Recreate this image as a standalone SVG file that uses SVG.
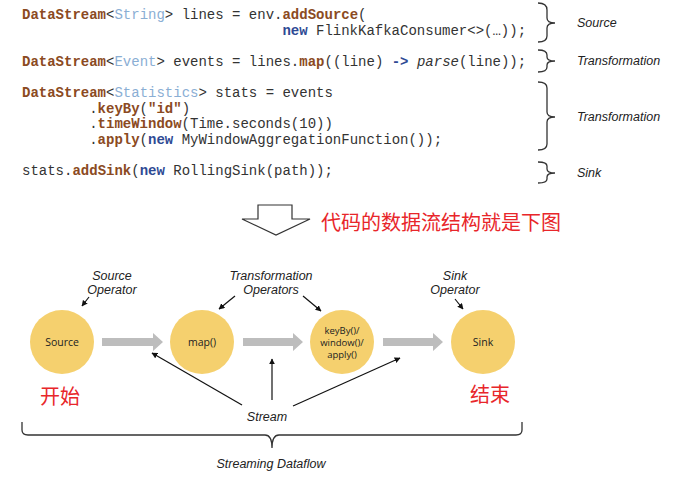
<svg xmlns="http://www.w3.org/2000/svg" width="682" height="488" viewBox="0 0 682 488">
<defs>
<style>
.code{font-family:"Liberation Mono","Courier New",monospace;font-size:14px;fill:#333;white-space:pre}
.kw{fill:#8B4A22;font-weight:bold}
.ty{fill:#8AAED4}
.nw{fill:#2E4A94;font-weight:bold}
.lbl{font-family:"Liberation Sans",Arial,sans-serif;font-style:italic;font-size:12.5px;fill:#222}
.blbl{font-family:"Liberation Sans",Arial,sans-serif;font-style:italic;font-size:12.5px;fill:#222;text-anchor:middle}
.node{fill:#F5D06E}
.ntxt{font-family:"Open Sans","Liberation Sans",sans-serif;font-size:10.5px;fill:#222;text-anchor:middle}
.ntxs{font-family:"Open Sans","Liberation Sans",sans-serif;font-size:9.5px;fill:#222;text-anchor:middle}
.cn{font-family:"Noto Sans CJK SC",sans-serif;fill:#E8262A}
.brace{fill:none;stroke:#333;stroke-width:1.3}
.flow{fill:#BDBDBD}
.ptr{stroke:#111;stroke-width:1.2;fill:none;marker-end:url(#ah)}
</style>
<marker id="ah" viewBox="0 0 10 10" refX="9" refY="5" markerWidth="6" markerHeight="6" orient="auto" markerUnits="userSpaceOnUse">
<path d="M0,0 L10,5 L0,10 z" fill="#111"/>
</marker>
</defs>
<rect width="682" height="488" fill="#fff"/>

<g id="code">
<text class="code" x="22" y="19"><tspan class="kw">DataStream</tspan>&lt;<tspan class="ty">String</tspan>&gt; lines = env.<tspan class="kw">addSource</tspan>(</text>
<text class="code" x="282.4" y="35"><tspan class="nw">new</tspan> FlinkKafkaConsumer&lt;&gt;(…));</text>
<text class="code" x="22" y="66"><tspan class="kw">DataStream</tspan>&lt;<tspan class="ty">Event</tspan>&gt; events = lines.<tspan class="kw">map</tspan>((line) <tspan class="nw">-&gt;</tspan> <tspan font-style="italic">parse</tspan>(line));</text>
<text class="code" x="22" y="97"><tspan class="kw">DataStream</tspan>&lt;<tspan class="ty">Statistics</tspan>&gt; stats = events</text>
<text class="code" x="89.2" y="113">.<tspan class="kw">keyBy</tspan>(<tspan class="kw">"id"</tspan>)</text>
<text class="code" x="89.2" y="128">.<tspan class="kw">timeWindow</tspan>(Time.seconds(10))</text>
<text class="code" x="89.2" y="144">.<tspan class="kw">apply</tspan>(<tspan class="nw">new</tspan> MyWindowAggregationFunction());</text>
<text class="code" x="22" y="175">stats.<tspan class="kw">addSink</tspan>(<tspan class="nw">new</tspan> RollingSink(path));</text>
</g>

<g id="code-braces">
<path class="brace" d="M538,3 Q547,3 547,10 L547,18 Q547,23 555,23 M547,28 Q547,23 555,23 M547,28 L547,36 Q547,42 538,42"/>
<path class="brace" d="M538,50 Q547,50 547,55 L547,57 Q547,61 555,61 M547,65 Q547,61 555,61 M547,65 L547,67 Q547,72 538,72"/>
<path class="brace" d="M538,82 Q547,82 547,88 L547,112 Q547,117 555,117 M547,122 Q547,117 555,117 M547,122 L547,144 Q547,150 538,150"/>
<path class="brace" d="M538,162 Q547,162 547,166 L547,169 Q547,173 555,173 M547,177 Q547,173 555,173 M547,177 L547,179 Q547,183 538,183"/>
<text class="lbl" x="577" y="27">Source</text>
<text class="lbl" x="577" y="65">Transformation</text>
<text class="lbl" x="577" y="121">Transformation</text>
<text class="lbl" x="577" y="177">Sink</text>
</g>

<g id="big-arrow">
<path d="M258,205 L292,205 L292,219 L310,219 L276,235 L242,219 L258,219 Z" fill="#fff" stroke="#333" stroke-width="1.2"/>
<text class="cn" x="321" y="230" font-size="20">代码的数据流结构就是下图</text>
</g>

<g id="connectors">
<polygon class="flow" points="102,338 153,338 153,333 163,342 153,351 153,346 102,346"/>
<polygon class="flow" points="243,338 293,338 293,333 303,342 293,351 293,346 243,346"/>
<polygon class="flow" points="383,338 433,338 433,333 443,342 433,351 433,346 383,346"/>
<line class="ptr" x1="89" y1="297" x2="82" y2="306"/>
<line class="ptr" x1="235" y1="296" x2="219" y2="309"/>
<line class="ptr" x1="303" y1="296" x2="321" y2="311"/>
<line class="ptr" x1="455" y1="299" x2="463" y2="309"/>
<line class="ptr" x1="242" y1="405" x2="152" y2="353"/>
<line class="ptr" x1="272" y1="400" x2="272" y2="359"/>
<line class="ptr" x1="293" y1="406" x2="400" y2="358"/>
</g>

<g id="node-source">
<circle class="node" cx="62" cy="342" r="32"/>
<text class="ntxt" x="62" y="346">Source</text>
</g>
<g id="node-map">
<circle class="node" cx="202" cy="342" r="32"/>
<text class="ntxt" x="202" y="346">map()</text>
</g>
<g id="node-keyby">
<circle class="node" cx="342" cy="342" r="32"/>
<text class="ntxs" x="342" y="333.5">keyBy()/</text>
<text class="ntxs" x="342" y="345.5">window()/</text>
<text class="ntxs" x="342" y="357.5">apply()</text>
</g>
<g id="node-sink">
<circle class="node" cx="483" cy="342" r="32"/>
<text class="ntxt" x="483" y="346">Sink</text>
</g>

<g id="labels">
<text class="blbl" x="112" y="280">Source</text>
<text class="blbl" x="112" y="294">Operator</text>
<text class="blbl" x="271" y="280">Transformation</text>
<text class="blbl" x="271" y="294">Operators</text>
<text class="blbl" x="455" y="280">Sink</text>
<text class="blbl" x="455" y="294">Operator</text>
<text class="blbl" x="267" y="421">Stream</text>
<text class="blbl" x="271" y="468">Streaming Dataflow</text>
<text class="cn" x="40" y="404" font-size="20">开始</text>
<text class="cn" x="470" y="402" font-size="20">结束</text>
</g>

<g id="dataflow-brace">
<path class="brace" d="M22,422 L22,430 Q22,435 28,435 L265,435 Q272,435 272,448 Q272,435 279,435 L516,435 Q522,435 522,430 L522,422"/>
</g>
</svg>
